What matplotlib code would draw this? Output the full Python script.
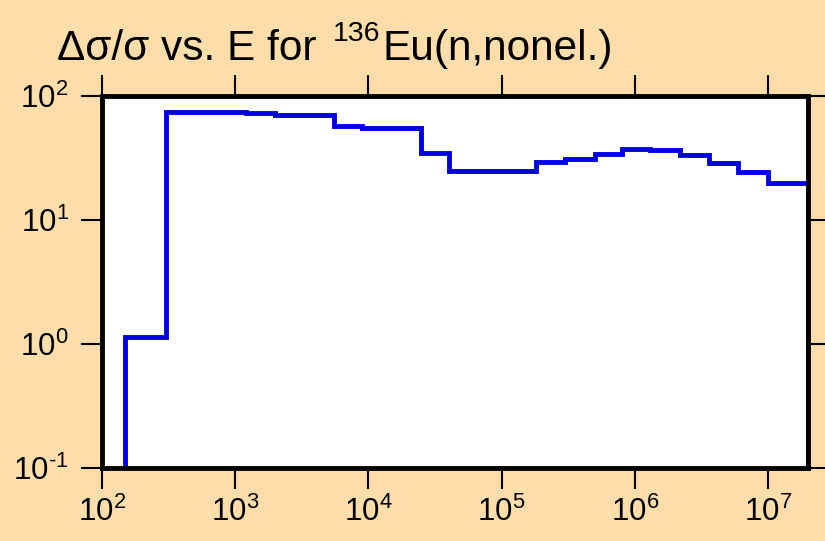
import matplotlib
matplotlib.use("Agg")
import matplotlib.pyplot as plt
from matplotlib.ticker import FixedLocator, NullLocator

plt.rcParams['font.family'] = ['Liberation Sans', 'DejaVu Sans']
plt.rcParams['mathtext.fontset'] = 'custom'
plt.rcParams['mathtext.rm'] = 'Liberation Sans'
plt.rcParams['mathtext.it'] = 'Liberation Sans'
plt.rcParams['mathtext.bf'] = 'Liberation Sans'

# bin edges (eV) and relative uncertainty (%)
edges = [150, 300, 1.2e3, 2e3, 5.5e3, 9e3, 2.5e4, 4e4, 6.7e4, 1.8e5,
         3e5, 5e5, 8e5, 1.3e6, 2.2e6, 3.6e6, 6e6, 1e7, 2e7]
values = [1.14, 74, 73.5, 70, 57.5, 55.5, 35, 25, 25, 29.5,
          30.8, 34.3, 37.6, 36.9, 33.4, 28.6, 24.5, 19.8]

xticks = [1e2, 1e3, 1e4, 1e5, 1e6, 1e7]
xlabels = ['2', '3', '4', '5', '6', '7']
yticks = [1e-1, 1e0, 1e1, 1e2]
ylabels = ['\u20101', '0', '1', '2']

bg = '#FDDEAA'
fig = plt.figure(figsize=(8.25, 5.41), dpi=100, facecolor=bg)
ax = fig.add_axes([0.1236, 0.1349, 0.8558, 0.6877])
ax.set_facecolor('white')

ax.stairs(values, edges, baseline=1e-3, color='#0000E0', linewidth=3.5)

ax.set_xscale('log')
ax.set_yscale('log')
ax.set_xlim(1e2, 2e7)
ax.set_ylim(1e-1, 1e2)

ax.xaxis.set_major_locator(FixedLocator(xticks))
ax.yaxis.set_major_locator(FixedLocator(yticks))
ax.xaxis.set_minor_locator(NullLocator())
ax.yaxis.set_minor_locator(NullLocator())
ax.set_xticklabels([r'$\mathregular{10^{%s}}$' % e for e in xlabels])
ax.set_yticklabels([r'$\mathregular{10^{%s}}$' % e for e in ylabels])

ax.tick_params(which='major', direction='out', length=15, width=1.5,
               top=True, right=True, labelsize=22.5, color='black')
ax.tick_params(axis='x', pad=6)
ax.tick_params(axis='y', pad=9)
for lab in ax.get_yticklabels():
    lab.set_verticalalignment('center_baseline')

for sp in ax.spines.values():
    sp.set_linewidth(3.5)
    sp.set_color('black')

# title: main text, superscript mass number, then reaction
fig.canvas.draw()
r = fig.canvas.get_renderer()
y0 = 481 / 541
t1 = fig.text(57 / 825, y0, '\u0394\u03c3/\u03c3 vs. E for', fontsize=30.5,
              ha='left', va='baseline')
bb = t1.get_window_extent(r)
x1 = (bb.x1 + 16) / 825
t2 = fig.text(x1, y0 + 19 / 541, '136', fontsize=20.5, ha='left', va='baseline')
bb2 = t2.get_window_extent(r)
fig.text((bb2.x1 + 2) / 825, y0, 'Eu(n,nonel.)', fontsize=30.5,
         ha='left', va='baseline')

fig.savefig('out.png', dpi=100, facecolor=bg)
